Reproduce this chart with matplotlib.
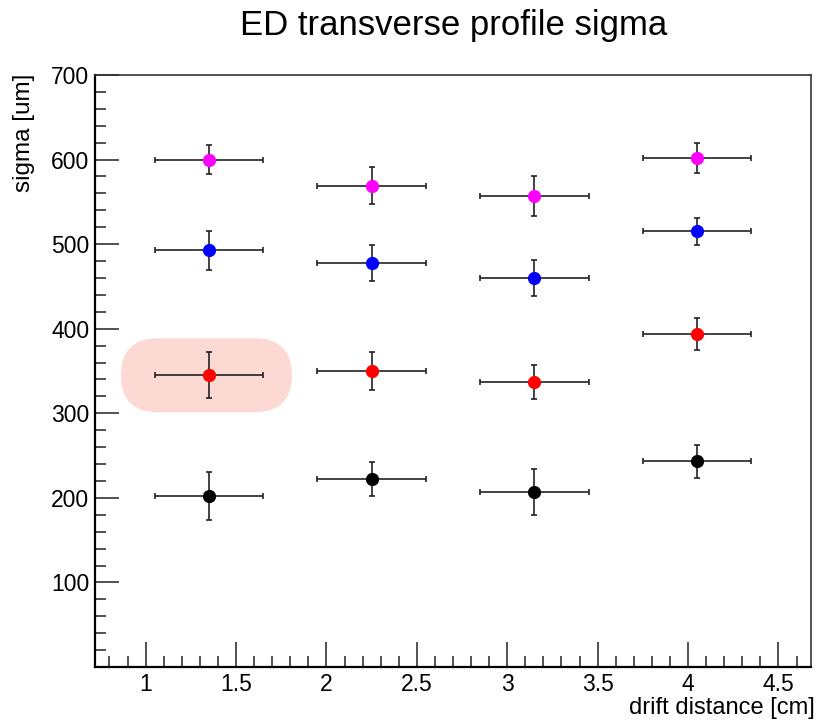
import matplotlib
matplotlib.use('Agg')
import matplotlib.pyplot as plt
from matplotlib.patches import FancyBboxPatch
from matplotlib.ticker import MultipleLocator

plt.rcParams['font.family'] = ['Liberation Sans', 'DejaVu Sans']

drift = [1.35, 2.25, 3.15, 4.05]
drift_err = [0.3, 0.3, 0.3, 0.3]

sigma_magenta = [600, 569, 557, 602]
err_magenta = [17, 22, 24, 18]
sigma_blue = [493, 478, 460, 515]
err_blue = [23, 21, 21, 16]
sigma_red = [345, 350, 337, 394]
err_red = [27, 22, 20, 19]
sigma_black = [202, 222, 207, 243]
err_black = [28, 20, 27, 20]

series = [
    (sigma_magenta, err_magenta, '#ff00ff'),
    (sigma_blue, err_blue, '#0000ff'),
    (sigma_red, err_red, '#ff0000'),
    (sigma_black, err_black, '#000000'),
]

fig = plt.figure(figsize=(8.16, 7.2), dpi=100)
ax = fig.add_axes([95 / 816, 53 / 720, 716 / 816, 592 / 720])
ax.set_xlim(0.72, 4.68)
ax.set_ylim(0, 700)

for vals, errs, col in series:
    ax.errorbar(drift, vals, xerr=drift_err, yerr=errs, fmt='o', color=col,
                markersize=8.5, ecolor='#222222', elinewidth=1.2,
                capsize=2.5, capthick=1.2, zorder=3)

# highlight around the first red point
fig.canvas.draw()
px, py = ax.transData.transform((drift[0], sigma_red[0]))
w, h = 171, 74
pill = FancyBboxPatch((px - 2.5 - w / 2, py - h / 2), w, h,
                      boxstyle='round,pad=0,rounding_size=37',
                      transform=None, facecolor='#fcd9d2', edgecolor='none',
                      zorder=1)
ax.add_artist(pill)

ax.xaxis.set_major_locator(MultipleLocator(0.5))
ax.xaxis.set_minor_locator(MultipleLocator(0.1))
ax.yaxis.set_major_locator(MultipleLocator(100))
ax.yaxis.set_minor_locator(MultipleLocator(20))
ax.tick_params(which='both', direction='in', top=False, right=False,
               labelsize=16.5, width=1.2, color='#333333')
ax.tick_params(axis='y', which='major', length=17, pad=4)
ax.tick_params(axis='y', which='minor', length=8)
ax.tick_params(axis='x', which='major', length=18, pad=4)
ax.tick_params(axis='x', which='minor', length=8)
ax.set_yticks([100, 200, 300, 400, 500, 600, 700])
ax.set_xticks([1, 1.5, 2, 2.5, 3, 3.5, 4, 4.5])
ax.set_xticklabels(['1', '1.5', '2', '2.5', '3', '3.5', '4', '4.5'])

for side in ['left', 'bottom']:
    ax.spines[side].set_linewidth(1.6)
for side in ['top', 'right']:
    ax.spines[side].set_linewidth(1.2)
    ax.spines[side].set_color('#333333')

fig.text(454 / 816, 1 - 25 / 720, 'ED transverse profile sigma', fontsize=25,
         ha='center', va='center')
fig.text(24 / 816, 1 - 74 / 720, 'sigma [um]', fontsize=17.5, rotation=90,
         ha='center', va='top')
fig.text(815 / 816, 1 - 714 / 720, 'drift distance [cm]', fontsize=17,
         ha='right', va='baseline')

fig.savefig('out.png', dpi=100)
